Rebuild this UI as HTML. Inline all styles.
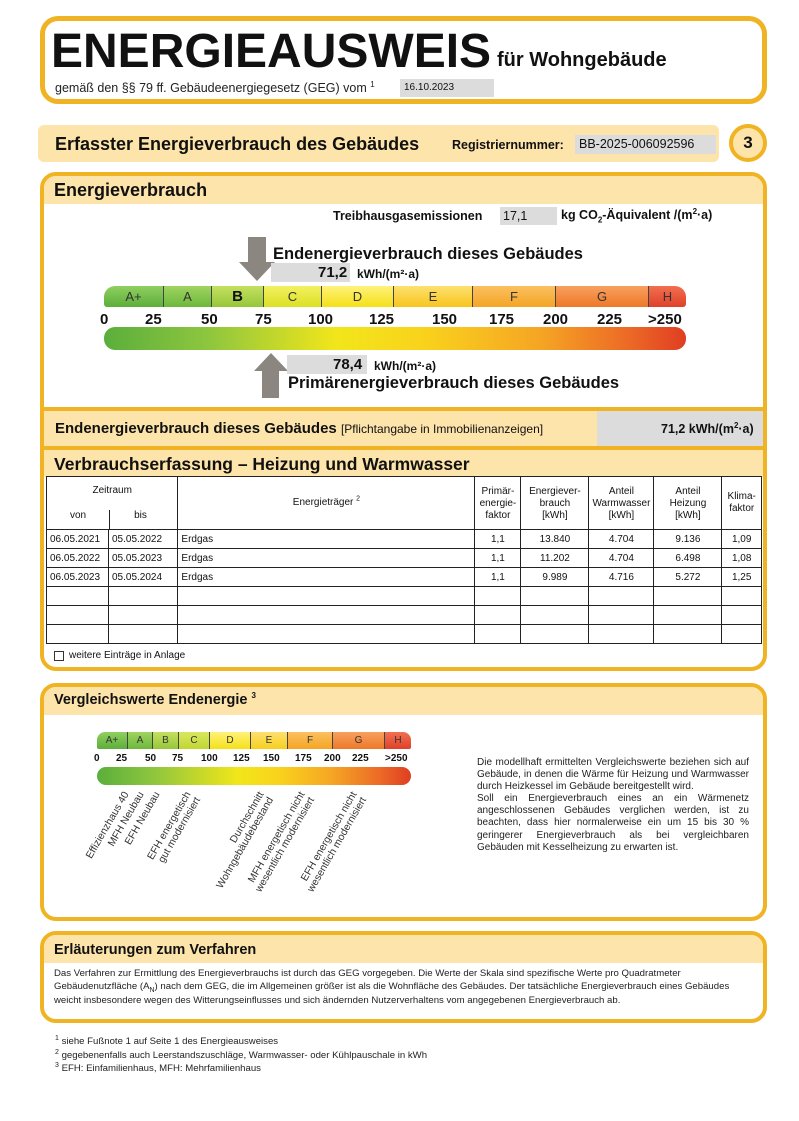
<!DOCTYPE html>
<html><head><meta charset="utf-8"><style>
*{margin:0;padding:0;box-sizing:border-box}
body{width:799px;height:1121px;background:#fff;position:relative;font-family:"Liberation Sans",sans-serif;color:#111;overflow:hidden}
sup,sub{line-height:0}
.a{position:absolute;white-space:nowrap}
.box{position:absolute;border:4px solid #f0b323;border-radius:16px;background:#fff;overflow:hidden}
.fill{position:absolute;background:#fde4aa}
.b{font-weight:bold}
.gray{position:absolute;background:#dcdcdc}
.seg{position:absolute;top:0;height:100%;border-right:1px solid #444;text-align:center;color:#333}
.rot{position:absolute;width:220px;text-align:right;transform-origin:100% 0;transform:rotate(-60deg);font-size:10.3px;line-height:11px;color:#333;white-space:nowrap}
table{border-collapse:collapse;font-size:10px}
td{border:1px solid #222;height:19px;padding:0 3px}
</style></head><body>

<!-- header -->
<div class="box" style="left:40px;top:16px;width:727px;height:88px;border-radius:18px;border-width:5px"></div>
<div class="a b" style="left:51px;top:24px;font-size:48px;transform:scaleX(1.0);transform-origin:0 0">ENERGIEAUSWEIS</div>
<div class="a b" style="left:497px;top:49px;font-size:20px">für Wohngebäude</div>
<div class="a" style="left:55px;top:81px;font-size:12.5px;color:#222">gemäß den §§ 79 ff. Gebäudeenergiegesetz (GEG) vom <sup style="font-size:8px">1</sup></div>
<div class="gray" style="left:400px;top:79px;width:94px;height:18px"></div>
<div class="a" style="left:404px;top:82px;font-size:10px">16.10.2023</div>

<div class="fill" style="left:38px;top:125px;width:681px;height:37px;border-radius:6px"></div>
<div class="a b" style="left:55px;top:134px;font-size:18px">Erfasster Energieverbrauch des Gebäudes</div>
<div class="a b" style="left:452px;top:138px;font-size:12.5px">Registriernummer:</div>
<div class="gray" style="left:575px;top:135px;width:141px;height:19px"></div>
<div class="a" style="left:579px;top:137px;font-size:12.5px">BB-2025-006092596</div>
<div style="position:absolute;left:729px;top:124px;width:38px;height:38px;border:4px solid #f0b323;border-radius:50%;background:#fde4aa;text-align:center;font-weight:bold;font-size:17px;line-height:30px">3</div>

<!-- Energieverbrauch box -->
<div class="box" style="left:40px;top:172px;width:727px;height:499px"></div>
<div class="fill" style="left:44px;top:176px;width:719px;height:28px;border-radius:12px 12px 0 0"></div>
<div class="a b" style="left:54px;top:180px;font-size:18px">Energieverbrauch</div>

<div class="a b" style="left:333px;top:209px;font-size:12.5px">Treibhausgasemissionen</div>
<div class="gray" style="left:500px;top:207px;width:57px;height:18px"></div>
<div class="a" style="left:503px;top:209px;font-size:12.5px">17,1</div>
<div class="a b" style="left:561px;top:208px;font-size:12.5px">kg CO<sub style="font-size:8px">2</sub>-Äquivalent /(m<sup style="font-size:8px">2</sup>·a)</div>

<!-- down arrow -->
<div style="position:absolute;left:248px;top:237px;width:18px;height:26px;background:#8c8680"></div>
<div style="position:absolute;left:239px;top:262px;width:0;height:0;border-left:18px solid transparent;border-right:18px solid transparent;border-top:19px solid #8c8680"></div>
<div class="a b" style="left:273px;top:245px;font-size:16.5px">Endenergieverbrauch dieses Gebäudes</div>
<div class="gray" style="left:271px;top:263px;width:79px;height:19px"></div>
<div class="a b" style="left:318px;top:264px;font-size:15px">71,2</div>
<div class="a b" style="left:357px;top:267px;font-size:12px">kWh/(m²·a)</div>

<!-- main scale -->
<div style="position:absolute;left:104px;top:286px;width:582px;height:21px;border-radius:11px 11px 3px 3px;overflow:hidden;font-size:13px;line-height:21px">
<div class="seg" style="left:0;width:60px;background:linear-gradient(#8fd060,#5cae3a)">A+</div>
<div class="seg" style="left:60px;width:48px;background:linear-gradient(#9fd460,#6cb83c)">A</div>
<div class="seg b" style="left:108px;width:52px;background:linear-gradient(#c4e060,#97c63a);color:#111;font-size:15px">B</div>
<div class="seg" style="left:160px;width:58px;background:linear-gradient(#f4f060,#dbe024)">C</div>
<div class="seg" style="left:218px;width:72px;background:linear-gradient(#fff27a,#f5e018)">D</div>
<div class="seg" style="left:290px;width:79px;background:linear-gradient(#fde070,#f7c51c)">E</div>
<div class="seg" style="left:369px;width:83px;background:linear-gradient(#fbc060,#f4a524)">F</div>
<div class="seg" style="left:452px;width:93px;background:linear-gradient(#f8a060,#ee7826)">G</div>
<div class="seg" style="left:545px;width:37px;border:0;background:linear-gradient(#f07050,#e0402a)">H</div>
</div>
<div class="a b" style="left:0;top:311px;width:799px;height:18px;font-size:15px">
<span class="a" style="left:100px">0</span><span class="a" style="left:145px">25</span><span class="a" style="left:201px">50</span><span class="a" style="left:255px">75</span><span class="a" style="left:308px">100</span><span class="a" style="left:369px">125</span><span class="a" style="left:432px">150</span><span class="a" style="left:489px">175</span><span class="a" style="left:543px">200</span><span class="a" style="left:597px">225</span><span class="a" style="left:648px">&gt;250</span></div>
<div style="position:absolute;left:104px;top:327px;width:582px;height:23px;border-radius:11px;background:linear-gradient(90deg,#5bae3c 0%,#8ec63e 18%,#f2e61a 40%,#f9d21c 55%,#f5a524 75%,#ec6a26 90%,#e03e22 100%)"></div>

<!-- up arrow -->
<div style="position:absolute;left:254px;top:353px;width:0;height:0;border-left:17px solid transparent;border-right:17px solid transparent;border-bottom:18px solid #8c8680"></div>
<div style="position:absolute;left:262px;top:370px;width:17px;height:28px;background:#8c8680"></div>
<div class="gray" style="left:287px;top:355px;width:80px;height:19px"></div>
<div class="a b" style="left:333px;top:356px;font-size:15px">78,4</div>
<div class="a b" style="left:374px;top:359px;font-size:12px">kWh/(m²·a)</div>
<div class="a b" style="left:288px;top:374px;font-size:16.5px">Primärenergieverbrauch dieses Gebäudes</div>

<!-- band -->
<div style="position:absolute;left:44px;top:407px;width:719px;height:4px;background:#f0b323"></div>
<div class="fill" style="left:44px;top:411px;width:719px;height:35px"></div>
<div class="gray" style="left:597px;top:411px;width:166px;height:35px"></div>
<div class="a b" style="left:55px;top:420px;font-size:15px">Endenergieverbrauch dieses Gebäudes <span style="font-weight:normal;font-size:12px">[Pflichtangabe in Immobilienanzeigen]</span></div>
<div class="a b" style="left:661px;top:422px;font-size:12.5px">71,2 kWh/(m<sup style="font-size:8px">2</sup>·a)</div>
<div style="position:absolute;left:44px;top:446px;width:719px;height:4px;background:#f0b323"></div>
<div class="fill" style="left:44px;top:450px;width:719px;height:27px"></div>
<div class="a b" style="left:54px;top:454px;font-size:17.5px">Verbrauchserfassung – Heizung und Warmwasser</div>

<table style="position:absolute;left:46px;top:476px;width:716px">
<tr style="height:53px;text-align:center;vertical-align:top"><td colspan="2" style="width:124px;border-bottom:0;padding-top:8px;position:relative">Zeitraum<span style="position:absolute;left:0;top:33px;width:62px">von</span><span style="position:absolute;left:62px;top:33px;width:62px;border-left:1px solid #222;height:20px">bis</span></td>
<td style="width:297px;padding-top:20px">Energieträger <sup style="font-size:7px">2</sup></td>
<td style="width:46px;padding-top:9px;line-height:12px">Primär-<br>energie-<br>faktor</td>
<td style="width:68px;padding-top:9px;line-height:12px">Energiever-<br>brauch<br>[kWh]</td>
<td style="width:65px;padding-top:9px;line-height:12px">Anteil<br>Warmwasser<br>[kWh]</td>
<td style="width:68px;padding-top:9px;line-height:12px">Anteil<br>Heizung<br>[kWh]</td>
<td style="padding-top:14px;line-height:12px">Klima-<br>faktor</td></tr>
<tr><td style="width:62px">06.05.2021</td><td>05.05.2022</td><td>Erdgas</td><td style="text-align:center">1,1</td><td style="text-align:center">13.840</td><td style="text-align:center">4.704</td><td style="text-align:center">9.136</td><td style="text-align:center">1,09</td></tr>
<tr><td>06.05.2022</td><td>05.05.2023</td><td>Erdgas</td><td style="text-align:center">1,1</td><td style="text-align:center">11.202</td><td style="text-align:center">4.704</td><td style="text-align:center">6.498</td><td style="text-align:center">1,08</td></tr>
<tr><td>06.05.2023</td><td>05.05.2024</td><td>Erdgas</td><td style="text-align:center">1,1</td><td style="text-align:center">9.989</td><td style="text-align:center">4.716</td><td style="text-align:center">5.272</td><td style="text-align:center">1,25</td></tr>
<tr><td></td><td></td><td></td><td></td><td></td><td></td><td></td><td></td></tr>
<tr><td></td><td></td><td></td><td></td><td></td><td></td><td></td><td></td></tr>
<tr><td></td><td></td><td></td><td></td><td></td><td></td><td></td><td></td></tr>
</table>
<div style="position:absolute;left:54px;top:651px;width:10px;height:10px;border:1px solid #333"></div>
<div class="a" style="left:69px;top:650px;font-size:10px">weitere Einträge in Anlage</div>

<!-- Vergleichswerte -->
<div class="box" style="left:40px;top:683px;width:727px;height:238px"></div>
<div class="fill" style="left:44px;top:687px;width:719px;height:28px;border-radius:12px 12px 0 0"></div>
<div class="a b" style="left:54px;top:692px;font-size:14.5px">Vergleichswerte Endenergie <sup style="font-size:8px">3</sup></div>
<div style="position:absolute;left:97px;top:732px;width:314px;height:17px;border-radius:8px 8px 2px 2px;overflow:hidden;font-size:10px;line-height:17px">
<div class="seg" style="left:0;width:31px;background:linear-gradient(#8fd060,#5cae3a)">A+</div>
<div class="seg" style="left:31px;width:25px;background:linear-gradient(#9fd460,#6cb83c)">A</div>
<div class="seg" style="left:56px;width:26px;background:linear-gradient(#c4e060,#97c63a)">B</div>
<div class="seg" style="left:82px;width:31px;background:linear-gradient(#d8e860,#c0d630)">C</div>
<div class="seg" style="left:113px;width:41px;background:linear-gradient(#fff27a,#f5e018)">D</div>
<div class="seg" style="left:154px;width:37px;background:linear-gradient(#fde070,#f7d01c)">E</div>
<div class="seg" style="left:191px;width:45px;background:linear-gradient(#fbc060,#f4a524)">F</div>
<div class="seg" style="left:236px;width:52px;background:linear-gradient(#f8a060,#ee7826)">G</div>
<div class="seg" style="left:288px;width:26px;border:0;background:linear-gradient(#f07050,#e0402a)">H</div>
</div>
<div class="a b" style="left:0;top:753px;width:799px;height:14px;font-size:10px">
<span class="a" style="left:94px">0</span><span class="a" style="left:116px">25</span><span class="a" style="left:145px">50</span><span class="a" style="left:172px">75</span><span class="a" style="left:201px">100</span><span class="a" style="left:233px">125</span><span class="a" style="left:263px">150</span><span class="a" style="left:295px">175</span><span class="a" style="left:324px">200</span><span class="a" style="left:352px">225</span><span class="a" style="left:385px">&gt;250</span></div>
<div style="position:absolute;left:97px;top:767px;width:314px;height:18px;border-radius:9px;background:linear-gradient(90deg,#5bae3c 0%,#8ec63e 18%,#f2e61a 45%,#f9d21c 58%,#f5a524 75%,#ec6a26 90%,#e03e22 100%)"></div>

<div class="rot" style="left:-98px;top:790px">Effizienzhaus 40</div>
<div class="rot" style="left:-83px;top:790px">MFH Neubau</div>
<div class="rot" style="left:-67px;top:790px">EFH Neubau</div>
<div class="rot" style="left:-36px;top:790px">EFH energetisch<br>gut modernisiert</div>
<div class="rot" style="left:37px;top:790px">Durchschnitt<br>Wohngebäudebestand</div>
<div class="rot" style="left:78px;top:790px">MFH energetisch nicht<br>wesentlich modernisiert</div>
<div class="rot" style="left:130px;top:790px">EFH energetisch nicht<br>wesentlich modernisiert</div>

<div style="position:absolute;left:477px;top:757px;width:272px;font-size:10px;line-height:12.1px;text-align:justify;color:#222">Die modellhaft ermittelten Vergleichswerte beziehen sich auf Gebäude, in denen die Wärme für Heizung und Warmwasser durch Heizkessel im Gebäude bereitgestellt wird.<br>Soll ein Energieverbrauch eines an ein Wärmenetz angeschlossenen Gebäudes verglichen werden, ist zu beachten, dass hier normalerweise ein um 15 bis 30 % geringerer Energieverbrauch als bei vergleichbaren Gebäuden mit Kesselheizung zu erwarten ist.</div>

<!-- Erläuterungen -->
<div class="box" style="left:40px;top:931px;width:727px;height:92px"></div>
<div class="fill" style="left:44px;top:935px;width:719px;height:28px;border-radius:12px 12px 0 0"></div>
<div class="a b" style="left:54px;top:942px;font-size:14.5px">Erläuterungen zum Verfahren</div>
<div style="position:absolute;left:54px;top:967px;width:705px;font-size:9.6px;line-height:13.3px;color:#222">Das Verfahren zur Ermittlung des Energieverbrauchs ist durch das GEG vorgegeben. Die Werte der Skala sind spezifische Werte pro Quadratmeter Gebäudenutzfläche (A<sub style="font-size:7px">N</sub>) nach dem GEG, die im Allgemeinen größer ist als die Wohnfläche des Gebäudes. Der tatsächliche Energieverbrauch eines Gebäudes weicht insbesondere wegen des Witterungseinflusses und sich ändernden Nutzerverhaltens vom angegebenen Energieverbrauch ab.</div>

<div style="position:absolute;left:55px;top:1035px;font-size:9.6px;line-height:13.5px;color:#222"><sup style="font-size:7px">1</sup> siehe Fußnote 1 auf Seite 1 des Energieausweises<br><sup style="font-size:7px">2</sup> gegebenenfalls auch Leerstandszuschläge, Warmwasser- oder Kühlpauschale in kWh<br><sup style="font-size:7px">3</sup> EFH: Einfamilienhaus, MFH: Mehrfamilienhaus</div>
</body></html>
